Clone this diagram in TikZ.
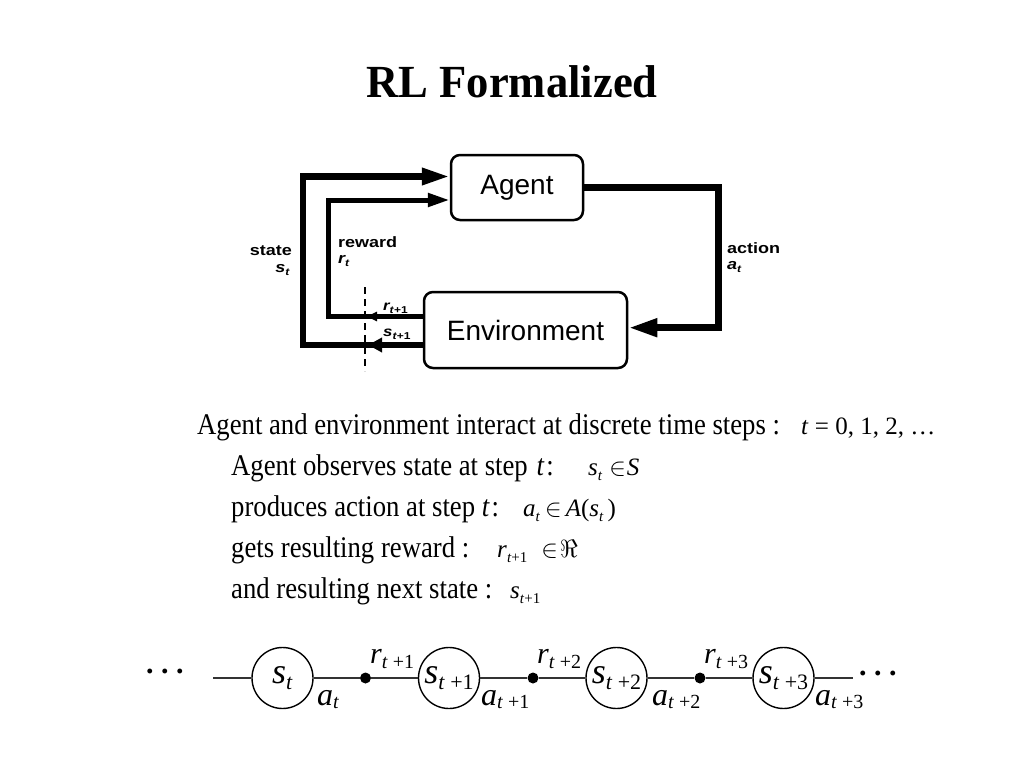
\documentclass[tikz,border=0pt]{standalone}
\usepackage{fontspec}
\setmainfont{Liberation Serif}
\newfontfamily\lsans{Liberation Sans}
\usetikzlibrary{arrows.meta}
\newcommand{\fs}[1]{\fontsize{#1}{#1}\selectfont}
\newcommand{\sbx}[5]{{\fs{#1}\itshape #2}\raisebox{-#4}{\fs{#3}#5}}
\newcommand{\tx}[1]{\scalebox{0.89}[1]{\fs{30}#1}}
\newcommand{\wide}[1]{\scalebox{1.2}[1]{#1}}
\newcommand{\inn}{$\in$}
\newcommand{\sbm}[2]{\textit{#1}\raisebox{-5pt}{\fs{15}#2}}
\begin{document}
\begin{tikzpicture}[x=1pt,y=-1pt,
  box/.style={draw, line width=2.5pt, rounded corners=9pt, inner sep=0pt, font=\lsans\fs{28}},
  stateline/.style={line width=6.5pt},
  rewline/.style={line width=5pt},
  actline/.style={line width=7pt},
  dashln/.style={line width=2.5pt, dash pattern=on 7pt off 5pt},
  lbl/.style={inner sep=0pt, font=\lsans\bfseries\fs{15}},
  txt/.style={anchor=base west, inner sep=0pt, font=\fs{25}},
  stnode/.style={circle, draw, line width=1.4pt, minimum size=61pt, inner sep=0pt, fill=white},
  dotnode/.style={circle, fill, inner sep=0pt, minimum size=11pt},
  chainln/.style={line width=1.4pt, draw=black!80},
  clbl/.style={anchor=base west, inner sep=0pt}
]
\useasboundingbox (0,0) rectangle (1024,768);
\fill[white] (0,0) rectangle (1024,768);

% title
\node[anchor=base, inner sep=0pt, font=\fs{46}\bfseries] (title) at (512,97) {\scalebox{0.97}[1]{RL Formalized}};

% boxes
\node[box, minimum width=132pt, minimum height=65pt] (agent) at (517,187.5) {Agent};
\node[box, minimum width=203pt, minimum height=76pt] (env) at (525.5,330) {Environment};

\coordinate (sx) at (303,260);
\coordinate (rx) at (328,260);
\coordinate (ax) at (718,260);
\coordinate (dtop) at (365,287);
\coordinate (dbot) at (365,371);
\coordinate (stip) at (368,345);
\coordinate (rtip) at (367,316.5);

\draw[stateline, -{Triangle[length=28pt,width=16pt]}] ([yshift=-15pt]env.west) -| (sx) |- ([yshift=11pt]agent.west);
\draw[rewline, -{Triangle[length=22pt,width=13pt]}] ([yshift=13.5pt]env.west) -| (rx) |- ([yshift=-12.5pt]agent.west);
\draw[actline, -{Triangle[length=29pt,width=17pt]}] (agent.east) -| (ax) |- ([yshift=2.3pt]env.east);
\draw[stateline, -{Triangle[length=14pt,width=14pt]}] ([yshift=-15pt]env.west) -- (stip);
\draw[rewline, -{Triangle[length=10pt,width=9pt]}] ([yshift=13.5pt]env.west) -- (rtip);
\draw[dashln] (dtop) -- (dbot);

% diagram labels
\node[lbl, anchor=base east] (lstate) at (292,255) {\wide{state}};
\node[lbl, anchor=base east] (lst) at (290,272) {\wide{\sbx{15}{s}{10}{3pt}{\textit{t}}}};
\node[lbl, anchor=base west] (lrew) at (338,247) {\wide{reward}};
\node[lbl, anchor=base west] (lrt) at (338,263) {\wide{\sbx{15}{r}{10}{3pt}{\textit{t}}}};
\node[lbl, anchor=base west] (lact) at (727,253) {\wide{action}};
\node[lbl, anchor=base west] (lat) at (727,269) {\wide{\sbx{15}{a}{10}{3pt}{\textit{t}}}};
\node[lbl, anchor=base west] (lr1) at (383,310) {\wide{\sbx{14}{r}{10}{3pt}{\textit{t}+1}}};
\node[lbl, anchor=base west] (ls1) at (383,336) {\wide{\sbx{14}{s}{10}{3pt}{\textit{t}+1}}};

% text lines
\node[txt] (l1) at (197,434) {\tx{Agent and environment interact at discrete time steps :}};
\node[txt] (m1) at (801,434) {\textit{t} = 0, 1, 2, …};
\node[txt] (l2) at (231,475) {\tx{Agent observes state at step\hspace{10pt}\textit{t}\hspace{2pt}:}};
\node[txt] (m2) at (588,475) {\sbm{s}{\textit{t}}\hspace{7pt}\inn\hspace{1pt}\textit{S}};
\node[txt] (l3) at (231,516) {\tx{produces action at step \textit{t}\hspace{2pt}:}};
\node[txt] (m3) at (523,516) {\sbm{a}{\textit{t}}\hspace{5pt}\inn\hspace{4pt}\textit{A}(\sbm{s}{\textit{t}}\hspace{4pt})};
\node[txt] (l4) at (231,557) {\tx{gets resulting reward :}};
\node[txt] (m4) at (497,557) {\sbm{r}{\textit{t}+1}\hspace{14pt}\inn\hspace{2pt}$\Re$};
\node[txt] (l5) at (231,598) {\tx{and resulting next state :}};
\node[txt] (m5) at (510,598) {\sbm{s}{\textit{t}+1}};

% chain
\coordinate (cl) at (213,678);
\coordinate (cr) at (853,678);
\node[stnode] (s0) at (282.5,678) {\sbx{36}{s}{22}{6pt}{\textit{t}}};
\node[stnode] (s1) at (449,678) {\sbx{36}{s}{22}{6pt}{\textit{t} +1}};
\node[stnode] (s2) at (616.5,678) {\sbx{36}{s}{22}{6pt}{\textit{t} +2}};
\node[stnode] (s3) at (783.5,678) {\sbx{36}{s}{22}{6pt}{\textit{t} +3}};
\node[dotnode] (d1) at (365.5,678) {};
\node[dotnode] (d2) at (533,678) {};
\node[dotnode] (d3) at (700,678) {};
\draw[chainln] (cl) -- (s0) -- (d1) -- (s1) -- (d2) -- (s2) -- (d3) -- (s3) -- (cr);

\node[clbl] (r1) at (370,663) {\sbx{30}{r}{20}{5pt}{\textit{t} +1}};
\node[clbl] (r2) at (537,663) {\sbx{30}{r}{20}{5pt}{\textit{t} +2}};
\node[clbl] (r3) at (704,663) {\sbx{30}{r}{20}{5pt}{\textit{t} +3}};
\node[clbl] (a0) at (317,705) {\sbx{32}{a}{20}{3pt}{\textit{t}}};
\node[clbl] (a1) at (481,705) {\sbx{32}{a}{20}{3pt}{\textit{t} +1}};
\node[clbl] (a2) at (652,705) {\sbx{32}{a}{20}{3pt}{\textit{t} +2}};
\node[clbl] (a3) at (815,705) {\sbx{32}{a}{20}{3pt}{\textit{t} +3}};

\node[clbl, font=\fs{30}\bfseries] (e1) at (146,673) {.\ .\ .};
\node[clbl, font=\fs{30}\bfseries] (e2) at (859,675) {.\ .\ .};
\end{tikzpicture}
\end{document}
